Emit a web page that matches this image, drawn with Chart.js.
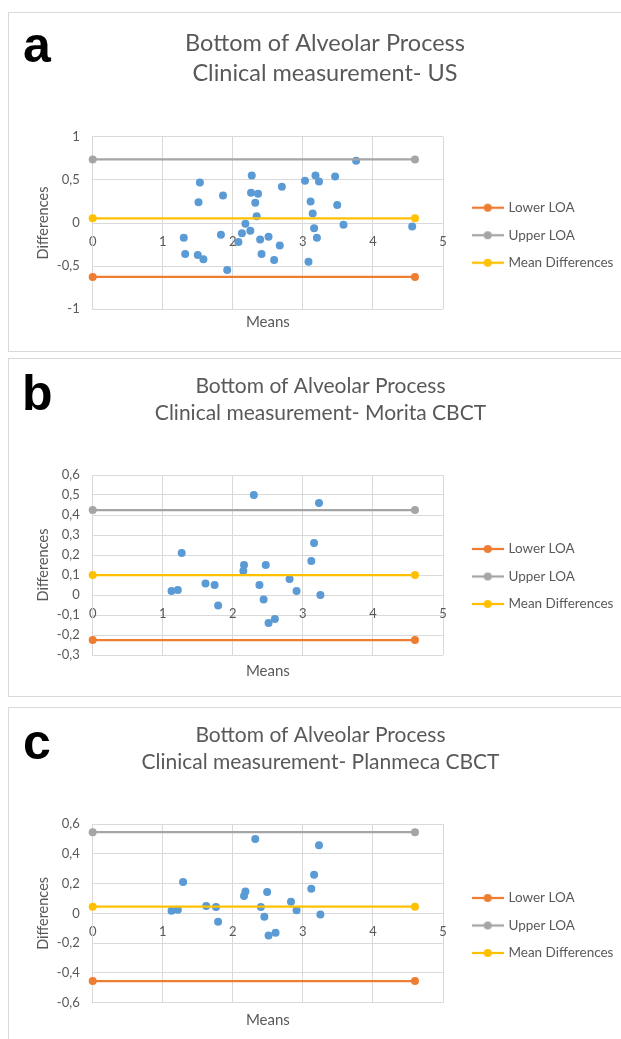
<!DOCTYPE html>
<html>
<head>
<meta charset="utf-8">
<script src="https://cdn.jsdelivr.net/npm/chart.js@4.4.1/dist/chart.umd.min.js"></script>
<style>
  html, body { margin: 0; padding: 0; background: #fff; overflow: hidden; }
  body { width: 621px; height: 1039px; position: relative; }
  .panel { position: absolute; left: 8px; width: 640px; border: 1px solid #d9d9d9; box-sizing: border-box; }
  .panel canvas { position: absolute; left: 0; top: 0; }
  .tag { position: absolute; font: bold 50px "Liberation Sans", Arial, sans-serif; color: #000; line-height: 1; }
</style>
</head>
<body>
<div class="panel" style="top:12px;height:340px"><canvas id="chartA" width="632" height="338"></canvas><div class="tag" style="left:14px;top:7px">a</div></div>
<div class="panel" style="top:358px;height:339px"><canvas id="chartB" width="632" height="337"></canvas><div class="tag" style="left:13px;top:9px">b</div></div>
<div class="panel" style="top:707px;height:340px"><canvas id="chartC" width="632" height="338"></canvas><div class="tag" style="left:14px;top:9px">c</div></div>
<script>
// shared
var xTicks = [0, 1, 2, 3, 4, 5];
var loaX = [0, 4.6];
var loaNames = ['Lower LOA', 'Upper LOA', 'Mean Differences'];
var loaColors = ['#ED7D31', '#A5A5A5', '#FFC000'];

// a - US
var meansA = [1.30, 1.32, 1.53, 1.51, 1.50, 1.58, 1.86, 1.83, 1.92, 2.08, 2.13, 2.18, 2.25, 2.27, 2.26, 2.36, 2.32, 2.34, 2.39, 2.41, 2.51, 2.59, 2.67, 2.70, 3.03, 3.08, 3.11, 3.14, 3.16, 3.18, 3.20, 3.23, 3.46, 3.49, 3.58, 3.76, 4.56];
var diffsA = [-0.17, -0.36, 0.47, 0.24, -0.37, -0.42, 0.32, -0.135, -0.545, -0.22, -0.12, -0.01, -0.09, 0.55, 0.35, 0.34, 0.235, 0.077, -0.19, -0.36, -0.16, -0.43, -0.26, 0.42, 0.49, -0.45, 0.25, 0.11, -0.06, 0.55, -0.17, 0.48, 0.54, 0.21, -0.02, 0.72, -0.04];
var loaA = [-0.625, 0.737, 0.054];
var yTicksA = [-1, -0.5, 0, 0.5, 1];

// b - Morita CBCT
var meansB = [1.125, 1.215, 1.27, 1.61, 1.74, 1.79, 2.15, 2.16, 2.30, 2.38, 2.44, 2.47, 2.51, 2.60, 2.81, 2.91, 3.12, 3.16, 3.23, 3.25];
var diffsB = [0.02, 0.025, 0.21, 0.057, 0.05, -0.053, 0.12, 0.15, 0.50, 0.05, -0.022, 0.15, -0.14, -0.12, 0.08, 0.02, 0.17, 0.26, 0.46, 0.00];
var loaB = [-0.225, 0.425, 0.10];
var yTicksB = [-0.3, -0.2, -0.1, 0, 0.1, 0.2, 0.3, 0.4, 0.5, 0.6];

// c - Planmeca CBCT
var meansC = [1.125, 1.215, 1.29, 1.62, 1.76, 1.79, 2.16, 2.18, 2.32, 2.40, 2.45, 2.49, 2.51, 2.61, 2.83, 2.91, 3.12, 3.16, 3.23, 3.25];
var diffsC = [0.018, 0.025, 0.21, 0.05, 0.043, -0.056, 0.116, 0.146, 0.50, 0.043, -0.022, 0.143, -0.148, -0.13, 0.078, 0.02, 0.166, 0.26, 0.457, -0.007];
var loaC = [-0.455, 0.545, 0.045];
var yTicksC = [-0.6, -0.4, -0.2, 0, 0.2, 0.4, 0.6];

var gridColor = '#d9d9d9';
var textColor = '#595959';
var pointColor = '#5B9BD5';
var fontName = 'Lato';
var legendSize = 13.5;

// little line+dot picture for the legend
function legendMark(color) {
    var c = document.createElement('canvas');
    c.width = 32; c.height = 10;
    var g = c.getContext('2d');
    g.strokeStyle = color; g.lineWidth = 2.25;
    g.beginPath(); g.moveTo(0, 5); g.lineTo(32, 5); g.stroke();
    g.fillStyle = color;
    g.beginPath(); g.arc(16, 5, 4, 0, Math.PI * 2); g.fill();
    return c;
}

function fmt(v) {
    return String(Math.round(v * 10) / 10).replace('.', ',');
}

function makeChart(id, p) {
    // legend keeps a fixed width and sits where excel put it
    var legendPlace = {
        id: 'legendPlace',
        afterInit: function (chart) {
            var lg = chart.legend;
            var fit = lg.fit;
            lg.fit = function () { fit.call(this); this.width = p.legendW; };
        },
        beforeDraw: function (chart) {
            var lg = chart.legend;
            var pad = lg.options.labels.padding;
            var h = lg.height;
            lg.left = p.legendX - pad;
            lg.right = lg.left + lg.width;
            lg.top = chart.chartArea.top + p.legendY - pad - legendSize / 2;
            lg.bottom = lg.top + h;
        }
    };

    var datasets = loaNames.map(function (name, k) {
        return {
            label: name,
            data: loaX.map(function (x) { return { x: x, y: p.loa[k] }; }),
            showLine: true,
            borderColor: loaColors[k],
            backgroundColor: loaColors[k],
            borderWidth: 2.25,
            pointRadius: 4,
            pointBorderWidth: 0,
            pointBackgroundColor: loaColors[k],
            clip: false,
            xAxisID: 'x', yAxisID: 'y'
        };
    });
    datasets.push({
        label: 'Differences',
        data: p.means.map(function (m, i) { return { x: m, y: p.diffs[i] }; }),
        backgroundColor: pointColor,
        borderWidth: 0,
        pointRadius: 4,
        clip: false,
        xAxisID: 'x', yAxisID: 'y'
    });

    return new Chart(document.getElementById(id), {
        type: 'scatter',
        data: { datasets: datasets },
        plugins: [legendPlace],
        options: {
            responsive: false,
            animation: false,
            events: [],
            layout: { padding: { left: 0, right: p.padR, top: 0, bottom: 0 } },
            plugins: {
                tooltip: { enabled: false },
                title: {
                    display: true,
                    text: p.title,
                    color: textColor,
                    font: { family: fontName, size: p.titleSize, weight: 'normal', lineHeight: p.titleLH / p.titleSize },
                    padding: { top: p.titleTop, bottom: p.titleBottom }
                },
                legend: {
                    position: 'right',
                    align: 'start',
                    labels: {
                        usePointStyle: true,
                        pointStyleWidth: 28,
                        padding: 14,
                        color: textColor,
                        font: { family: fontName, size: legendSize },
                        generateLabels: function (chart) {
                            return chart.data.datasets.map(function (ds, i) {
                                return { text: ds.label, pointStyle: legendMark(ds.borderColor), datasetIndex: i, hidden: false, fontColor: textColor, lineWidth: 0 };
                            }).filter(function (item) { return chart.data.datasets[item.datasetIndex].showLine; });
                        }
                    }
                }
            },
            scales: {
                x: {
                    type: 'linear',
                    position: { y: 0 },
                    min: 0, max: 5,
                    afterBuildTicks: function (s) { s.ticks = xTicks.map(function (v) { return { value: v }; }); },
                    grid: { color: gridColor, drawTicks: false },
                    border: { color: gridColor },
                    ticks: { padding: 11, color: textColor, font: { family: fontName, size: 13 } }
                },
                x2: {
                    type: 'linear',
                    position: 'bottom',
                    ticks: { display: false },
                    grid: { display: false, drawTicks: false },
                    border: { display: false },
                    title: {
                        display: true, text: 'Means', color: textColor,
                        font: { family: fontName, size: 15 },
                        padding: { top: p.meansTop, bottom: p.meansBottom }
                    }
                },
                y: {
                    type: 'linear',
                    position: 'left',
                    min: p.yTicks[0], max: p.yTicks[p.yTicks.length - 1],
                    afterBuildTicks: function (s) { s.ticks = p.yTicks.map(function (v) { return { value: v }; }); },
                    afterFit: function (s) { s.width = 83.7; },
                    grid: { color: gridColor, drawTicks: false },
                    border: { color: gridColor },
                    ticks: { padding: 13, color: textColor, font: { family: fontName, size: 13 }, callback: fmt },
                    title: {
                        display: true, text: 'Differences', color: textColor,
                        font: { family: fontName, size: 14.5 },
                        padding: { top: 25.6, bottom: 0 }
                    }
                }
            }
        }
    });
}

makeChart('chartA', {
    title: ['Bottom of Alveolar Process', 'Clinical measurement- US'],
    titleSize: 23.5, titleLH: 30, titleTop: 15.3, titleBottom: 48.4,
    means: meansA, diffs: diffsA, loa: loaA, yTicks: yTicksA,
    padR: 0, legendW: 198, legendX: 464.7, legendY: 71,
    meansTop: 3.7, meansBottom: 20
});
makeChart('chartB', {
    title: ['Bottom of Alveolar Process', 'Clinical measurement- Morita CBCT'],
    titleSize: 21, titleLH: 27, titleTop: 13.5, titleBottom: 48.5,
    means: meansB, diffs: diffsB, loa: loaB, yTicks: yTicksB,
    padR: 9, legendW: 189, legendX: 464.7, legendY: 74,
    meansTop: 7, meansBottom: 16
});
makeChart('chartC', {
    title: ['Bottom of Alveolar Process', 'Clinical measurement- Planmeca CBCT'],
    titleSize: 21, titleLH: 27, titleTop: 13.5, titleBottom: 48.5,
    means: meansC, diffs: diffsC, loa: loaC, yTicks: yTicksC,
    padR: 9, legendW: 189, legendX: 464.7, legendY: 74,
    meansTop: 8.6, meansBottom: 16.7
});
</script>
</body>
</html>
